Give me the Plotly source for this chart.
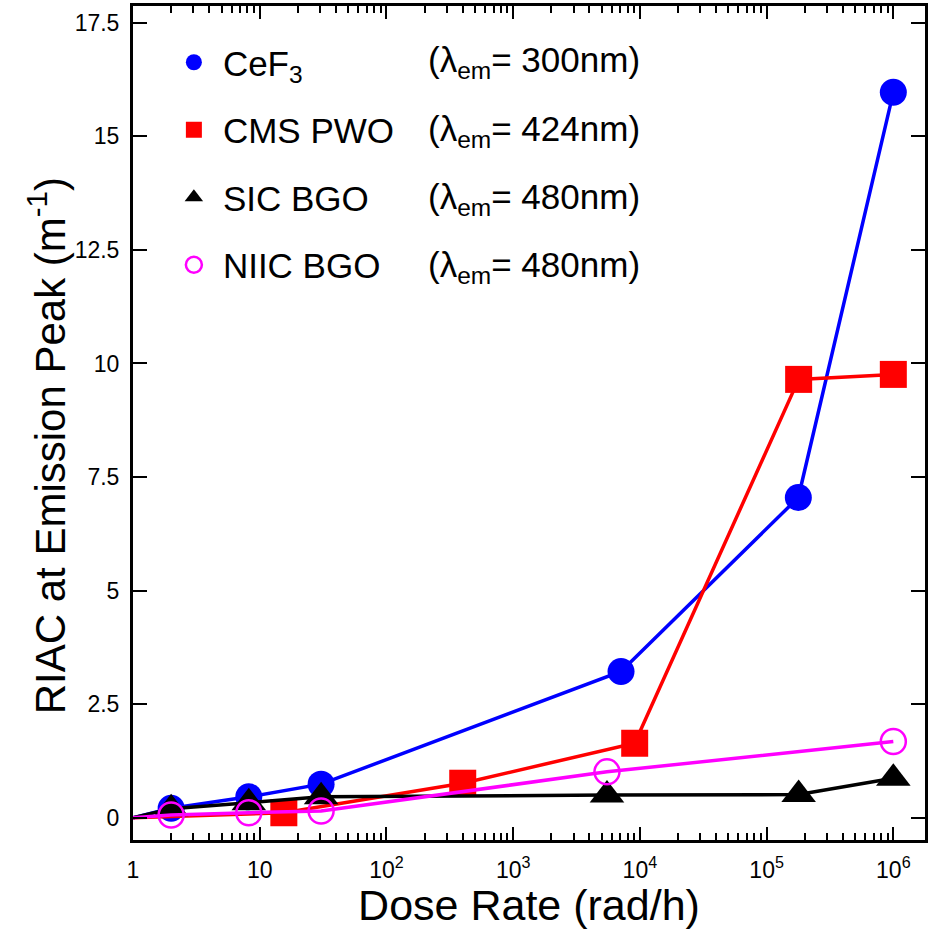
import plotly.graph_objects as go

# ---- data ----
cef3_x = [1, 2, 8.2, 30.5, 7.1e3, 1.78e5, 1.0e6]
cef3_y = [0, 0.21, 0.46, 0.74, 3.22, 7.05, 15.97]

pwo_x = [1, 15.5, 400, 9.1e3, 1.79e5, 1.0e6]
pwo_y = [0, 0.11, 0.76, 1.64, 9.65, 9.76]

sic_x = [1, 2, 8.2, 30.5, 5.5e3, 1.79e5, 1.0e6]
sic_y = [0, 0.20, 0.33, 0.46, 0.50, 0.51, 0.87]

niic_x = [1, 2, 8.2, 30.5, 5.5e3, 1.0e6]
niic_y = [0, 0.06, 0.11, 0.15, 1.01, 1.68]

series_names = ["CeF<sub>3</sub>", "CMS PWO", "SIC BGO", "NIIC BGO"]
series_lambda = ["300nm", "424nm", "480nm", "480nm"]

x_tickvals = [1, 10, 1e2, 1e3, 1e4, 1e5, 1e6]
x_ticktext = ["1", "10", "10<sup>2</sup>", "10<sup>3</sup>", "10<sup>4</sup>",
              "10<sup>5</sup>", "10<sup>6</sup>"]
y_tickvals = [0, 2.5, 5, 7.5, 10, 12.5, 15, 17.5]
y_ticktext = ["0", "2.5", "5", "7.5", "10", "12.5", "15", "17.5"]

FONT = "Liberation Sans, Arial, sans-serif"

styles = [
    dict(color="#0000FF", symbol="circle", size=27, line=dict(width=0)),
    dict(color="#FF0000", symbol="square", size=27, line=dict(width=0)),
    dict(color="#000000", symbol="triangle-up", size=30, line=dict(width=0)),
    dict(color="#FF00FF", symbol="circle-open", size=25,
         line=dict(width=2.5, color="#FF00FF")),
]
line_colors = ["#0000FF", "#FF0000", "#000000", "#FF00FF"]

fig = go.Figure()
data = [(cef3_x, cef3_y), (pwo_x, pwo_y), (sic_x, sic_y), (niic_x, niic_y)]
for i, (xs, ys) in enumerate(data):
    fig.add_trace(go.Scatter(x=xs, y=ys, mode="lines",
                             line=dict(color=line_colors[i], width=3.5),
                             showlegend=False, hoverinfo="skip"))
    fig.add_trace(go.Scatter(x=xs[1:], y=ys[1:], mode="markers",
                             marker=styles[i], name=series_names[i],
                             legendgroup=f"g{i}"))

LEG_FS = 35
row_px = [62, 131, 199, 267]
plot_top, plot_bot, plot_l, plot_r = 6, 840, 133, 928
H = plot_bot - plot_top
W = plot_r - plot_l
for i, lam in enumerate(series_lambda):
    fig.add_annotation(
        x=(427 - plot_l) / W, xref="paper",
        y=(plot_bot - row_px[i]) / H, yref="paper",
        xanchor="left", yanchor="middle", showarrow=False,
        text=f"(λ<sub>em</sub>= {lam})",
        font=dict(family=FONT, size=LEG_FS, color="black"))

# y-axis title as rotated annotation
fig.add_annotation(
    x=(47 - plot_l) / W, xref="paper", y=(plot_bot - 446) / H, yref="paper",
    xanchor="center", yanchor="middle", showarrow=False, textangle=-90,
    text="RIAC at Emission Peak (m<sup>-1</sup>)",
    font=dict(family=FONT, size=42, color="black"))

minor_vals = [m * 10 ** d for d in range(0, 7) for m in range(2, 10)]

fig.update_layout(
    width=929, height=929,
    margin=dict(l=plot_l, r=929 - plot_r, t=plot_top, b=929 - plot_bot),
    paper_bgcolor="white", plot_bgcolor="white",
    font=dict(family=FONT, color="black"),
    legend=dict(x=(165 - plot_l) / W, xanchor="left",
                y=(plot_bot - 33) / H, yanchor="top",
                font=dict(family=FONT, size=LEG_FS, color="black"),
                itemwidth=48, tracegroupgap=19, traceorder="grouped",
                bgcolor="rgba(0,0,0,0)"),
    xaxis=dict(type="log", range=[0, 6.25],
               tickvals=x_tickvals, ticktext=x_ticktext,
               ticks="inside", ticklen=13, tickwidth=1.5, tickcolor="black",
               showline=True, linewidth=3, linecolor="black", mirror="ticks",
               showgrid=False, zeroline=False,
               tickfont=dict(family=FONT, size=23, color="black"),
               ticklabelstandoff=7,
               minor=dict(tickvals=minor_vals, ticks="inside", ticklen=7,
                          tickwidth=1.5, tickcolor="black", showgrid=False),
               title=dict(text="Dose Rate (rad/h)",
                          font=dict(family=FONT, size=43, color="black"),
                          standoff=4)),
    yaxis=dict(range=[-0.49, 17.87],
               tickvals=y_tickvals, ticktext=y_ticktext,
               ticks="inside", ticklen=14, tickwidth=1.5, tickcolor="black",
               showline=True, linewidth=3, linecolor="black", mirror="ticks",
               showgrid=False, zeroline=False,
               tickfont=dict(family=FONT, size=23, color="black"),
               ticklabelstandoff=6),
)

fig.write_html("out.html")
